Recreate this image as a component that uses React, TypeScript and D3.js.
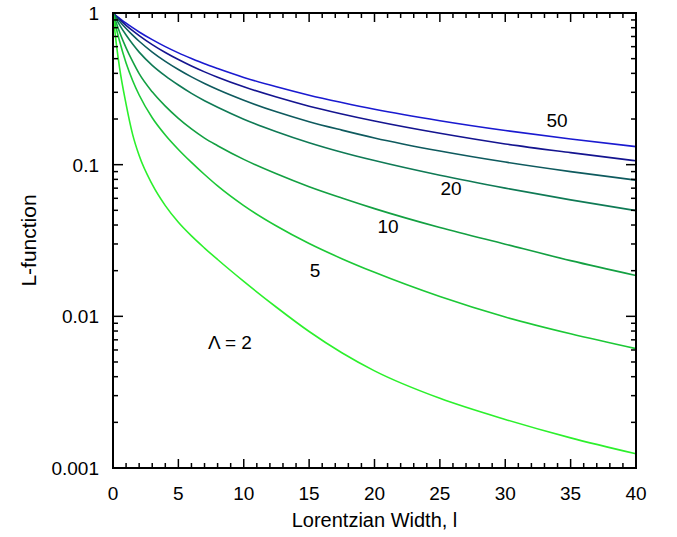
import React from "react";
import * as d3 from "d3";

// Lorentzian width samples
const widths = [0, 0.25, 0.5, 1, 1.5, 2, 3, 4, 5, 6, 7, 8, 10, 12.5, 15, 17.5, 20, 25, 30, 35, 40];

// L-function curves, top to bottom
const curveA = [1, 0.959, 0.923, 0.857, 0.8, 0.75, 0.667, 0.6, 0.546, 0.501, 0.462, 0.43, 0.376, 0.326, 0.287, 0.257, 0.232, 0.195, 0.168, 0.1475, 0.1315];
const curveB = [1, 0.951, 0.907, 0.83, 0.765, 0.71, 0.619, 0.549, 0.493, 0.447, 0.409, 0.377, 0.326, 0.279, 0.243, 0.216, 0.194, 0.161, 0.137, 0.12, 0.106];
const curveC = [1, 0.938, 0.883, 0.79, 0.714, 0.651, 0.553, 0.48, 0.424, 0.379, 0.343, 0.313, 0.266, 0.223, 0.192, 0.169, 0.15, 0.123, 0.104, 0.09, 0.0791];
const curveD = [1, 0.912, 0.836, 0.716, 0.624, 0.552, 0.452, 0.385, 0.335, 0.295, 0.264, 0.239, 0.1995, 0.165, 0.1396, 0.1208, 0.1064, 0.0851, 0.07, 0.0586, 0.0498];
const curveE = [1, 0.861, 0.75, 0.589, 0.479, 0.398, 0.302, 0.243, 0.202, 0.172, 0.1496, 0.1334, 0.1084, 0.0871, 0.0716, 0.0603, 0.0513, 0.0385, 0.0299, 0.0233, 0.0186];
const curveF = [1, 0.794, 0.653, 0.468, 0.359, 0.288, 0.204, 0.157, 0.126, 0.1035, 0.0861, 0.0724, 0.0537, 0.0394, 0.0302, 0.024, 0.0195, 0.0135, 0.00989, 0.00767, 0.00612];
const curveG = [1, 0.631, 0.4365, 0.251, 0.1585, 0.1148, 0.0741, 0.0537, 0.0417, 0.0339, 0.0282, 0.0237, 0.017, 0.01148, 0.00794, 0.00575, 0.00437, 0.00288, 0.00209, 0.00158, 0.00124];

const series = [curveA, curveB, curveC, curveD, curveE, curveF, curveG];
const colors = ["#1a1ad0", "#14148f", "#0e5a5e", "#0f7a55", "#13a042", "#1cc836", "#2cf02c"];

const xTicks = [0, 5, 10, 15, 20, 25, 30, 35, 40];
const yTicks = [1, 0.1, 0.01, 0.001];
const yTickLabels = ["1", "0.1", "0.01", "0.001"];

// curve labels, in data coordinates
const labels = [
  { text: "50", l: 33.96, v: 0.197 },
  { text: "20", l: 25.85, v: 0.0702 },
  { text: "10", l: 21.03, v: 0.0395 },
  { text: "5", l: 15.45, v: 0.0202 },
  { text: "\u039b = 2", l: 8.95, v: 0.0068 },
];

const W = 677;
const H = 537;
const left = 113;
const right = 636;
const top = 13;
const bottom = 468;
const font = "'Liberation Sans', Arial, Helvetica, sans-serif";

export default function App() {
  const x = d3.scaleLinear().domain([0, 40]).range([left, right]);
  const y = d3.scaleLog().domain([0.001, 1]).range([bottom, top]);

  const line = d3
    .line<number>()
    .x((d, i) => x(widths[i]))
    .y((d) => y(d))
    .curve(d3.curveMonotoneX);

  const xMinor = d3.range(0, 41, 1).filter((v) => v % 5 !== 0);
  const yMinor: number[] = [];
  [0.001, 0.01, 0.1].forEach((dec) => {
    for (let k = 2; k <= 9; k++) yMinor.push(dec * k);
  });

  return (
    <svg width={W} height={H} style={{ position: "absolute", left: 0, top: 0, background: "#fff" }}>
      <defs>
        <clipPath id="plot">
          <rect x={left} y={top} width={right - left} height={bottom - top} />
        </clipPath>
      </defs>

      <g clipPath="url(#plot)" fill="none" strokeWidth={1.6}>
        {series.map((s, i) => (
          <path key={i} d={line(s) || ""} stroke={colors[i]} />
        ))}
      </g>

      <g stroke="#000" strokeWidth={1.5}>
        {xTicks.map((t) => (
          <g key={"xt" + t}>
            <line x1={x(t)} x2={x(t)} y1={bottom} y2={bottom - 9} />
            <line x1={x(t)} x2={x(t)} y1={top} y2={top + 9} />
          </g>
        ))}
        {xMinor.map((t) => (
          <g key={"xm" + t}>
            <line x1={x(t)} x2={x(t)} y1={bottom} y2={bottom - 5} />
            <line x1={x(t)} x2={x(t)} y1={top} y2={top + 5} />
          </g>
        ))}
        {yTicks.map((t) => (
          <g key={"yt" + t}>
            <line x1={left} x2={left + 10} y1={y(t)} y2={y(t)} />
            <line x1={right} x2={right - 10} y1={y(t)} y2={y(t)} />
          </g>
        ))}
        {yMinor.map((t, i) => (
          <g key={"ym" + i}>
            <line x1={left} x2={left + 5} y1={y(t)} y2={y(t)} />
            <line x1={right} x2={right - 5} y1={y(t)} y2={y(t)} />
          </g>
        ))}
      </g>

      <rect
        x={left}
        y={top}
        width={right - left}
        height={bottom - top}
        fill="none"
        stroke="#000"
        strokeWidth={2}
      />

      <g fontFamily={font} fontSize={19} fill="#000">
        {xTicks.map((t) => (
          <text key={"xl" + t} x={x(t)} y={bottom + 32} textAnchor="middle">
            {t}
          </text>
        ))}
        {yTicks.map((t, i) => (
          <text key={"yl" + t} x={left - 14} y={y(t) + 7} textAnchor="end">
            {yTickLabels[i]}
          </text>
        ))}
        {labels.map((lb) => (
          <text key={lb.text} x={x(lb.l)} y={y(lb.v) + 7} textAnchor="middle">
            {lb.text}
          </text>
        ))}
      </g>

      <text
        x={(left + right) / 2}
        y={527}
        textAnchor="middle"
        fontFamily={font}
        fontSize={20}
      >
        Lorentzian Width, l
      </text>
      <text
        transform={`translate(36, ${(top + bottom) / 2}) rotate(-90)`}
        textAnchor="middle"
        fontFamily={font}
        fontSize={21}
      >
        L-function
      </text>
    </svg>
  );
}
